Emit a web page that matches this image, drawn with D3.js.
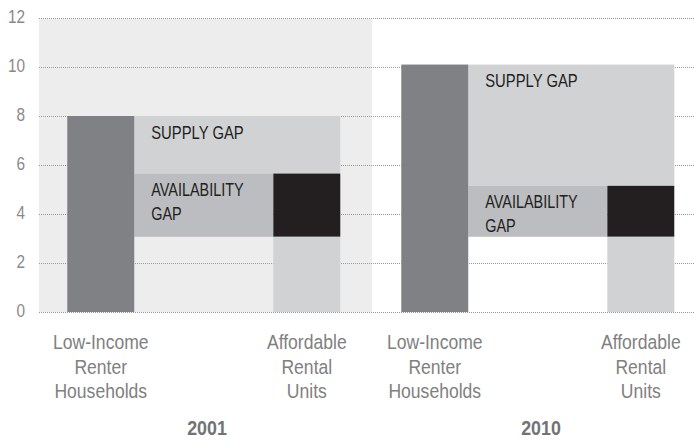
<!DOCTYPE html>
<html>
<head>
<meta charset="utf-8">
<script src="https://cdn.jsdelivr.net/npm/d3@7"></script>
<style>
  body { margin: 0; background: #fff; }
  svg { display: block; }
  text { font-family: "Liberation Sans", Arial, sans-serif; }
</style>
</head>
<body>
<svg id="chart" width="694" height="441"></svg>
<script>
// Data (millions)
const years = ["2001", "2010"];
const categories = ["renters", "units"];
const categoryLines = [["Low-Income", "Renter", "Households"], ["Affordable", "Rental", "Units"]];
const lowIncomeRenters = [8.0, 10.1];   // dark gray bar
const affordableUnits = [5.65, 5.15];   // top of black block
const availableUnits = [3.07, 3.07];    // light gray bar
const yTicks = [0, 2, 4, 6, 8, 10, 12];

const W = 694, H = 441;
const left = 39;

const svg = d3.select("#chart");

// the source font is a condensed face, so squeeze Liberation Sans horizontally
function place(sel, x, y, sx) {
  return sel.attr("transform", `translate(${x},${y}) scale(${sx},1)`);
}

const y = d3.scaleLinear().domain([0, 12]).range([312, 18]);

// outer scale: one panel per year
const xYear = d3.scaleBand().domain(years).range([38, 38 + 334 * 2]);
// inner scale: two bars inside each panel
const xCat = d3.scaleBand().domain(categories)
  .range([0, xYear.bandwidth()])
  .paddingInner(0.675)
  .paddingOuter(0.148)
  .align(0.48);

// shaded panel behind 2001
svg.append("rect")
  .attr("x", left)
  .attr("y", y(12) + 1)
  .attr("width", xYear("2010") - left)
  .attr("height", y(0) - y(12) - 1)
  .attr("fill", "#ededed");

// gridlines
svg.append("g").selectAll("line")
  .data(yTicks)
  .join("line")
  .attr("x1", left)
  .attr("x2", W)
  .attr("y1", d => Math.round(y(d)) + 0.5)
  .attr("y2", d => Math.round(y(d)) + 0.5)
  .attr("stroke", "#9a9a9a")
  .attr("stroke-width", 1)
  .attr("stroke-dasharray", "1,1");

// y tick labels
svg.append("g").selectAll("text")
  .data(yTicks)
  .join("text")
  .each(function(d) { place(d3.select(this), 25, y(d) + 5, 0.83); })
  .attr("text-anchor", "end")
  .attr("font-size", 18.5)
  .attr("fill", "#8a8a8a")
  .text(d => d);

years.forEach((yr, i) => {
  const g = svg.append("g").attr("transform", `translate(${xYear(yr)},0)`);
  const bw = xCat.bandwidth();
  const xR = xCat("renters"), xU = xCat("units");

  // supply gap: from affordable units up to renters
  g.append("rect")
    .attr("x", xR + bw)
    .attr("y", y(lowIncomeRenters[i]))
    .attr("width", xU + bw - (xR + bw))
    .attr("height", y(affordableUnits[i]) - y(lowIncomeRenters[i]))
    .attr("fill", "#d1d2d4");

  // availability gap
  g.append("rect")
    .attr("x", xR + bw)
    .attr("y", y(affordableUnits[i]))
    .attr("width", xU - (xR + bw))
    .attr("height", y(availableUnits[i]) - y(affordableUnits[i]))
    .attr("fill", "#bcbdc0");

  // renters bar
  g.append("rect")
    .attr("x", xR)
    .attr("y", y(lowIncomeRenters[i]))
    .attr("width", bw)
    .attr("height", y(0) - y(lowIncomeRenters[i]))
    .attr("fill", "#808184");

  // affordable units occupied by higher-income households
  g.append("rect")
    .attr("x", xU)
    .attr("y", y(affordableUnits[i]))
    .attr("width", bw)
    .attr("height", y(availableUnits[i]) - y(affordableUnits[i]))
    .attr("fill", "#231f20");

  // available affordable units
  g.append("rect")
    .attr("x", xU)
    .attr("y", y(availableUnits[i]))
    .attr("width", bw)
    .attr("height", y(0) - y(availableUnits[i]))
    .attr("fill", "#d1d2d4");

  // gap labels
  const lx = xR + bw + 17;
  place(g.append("text"), lx, y(lowIncomeRenters[i]) + 22.5, 0.8)
    .attr("font-size", 18.5)
    .attr("fill", "#231f20")
    .text("SUPPLY GAP");

  const av = place(g.append("text"), lx, y(affordableUnits[i]) + 22.5, 0.78)
    .attr("font-size", 18.5)
    .attr("fill", "#231f20");
  av.append("tspan").attr("x", 0).text("AVAILABILITY");
  av.append("tspan").attr("x", 0).attr("dy", 24).text("GAP");

  // category labels
  categories.forEach((c, j) => {
    const t = place(g.append("text"), xCat(c) + bw / 2, 349, 0.9)
      .attr("text-anchor", "middle")
      .attr("font-size", 19.5)
      .attr("fill", "#808080");
    categoryLines[j].forEach((line, k) => {
      t.append("tspan")
        .attr("x", 0)
        .attr("dy", k === 0 ? 0 : 24.7)
        .text(line);
    });
  });

  // year label
  place(g.append("text"), xYear.bandwidth() / 2 + 2, 435, 0.85)
    .attr("text-anchor", "middle")
    .attr("font-size", 21)
    .attr("font-weight", "bold")
    .attr("fill", "#727376")
    .text(yr);
});
</script>
</body>
</html>
